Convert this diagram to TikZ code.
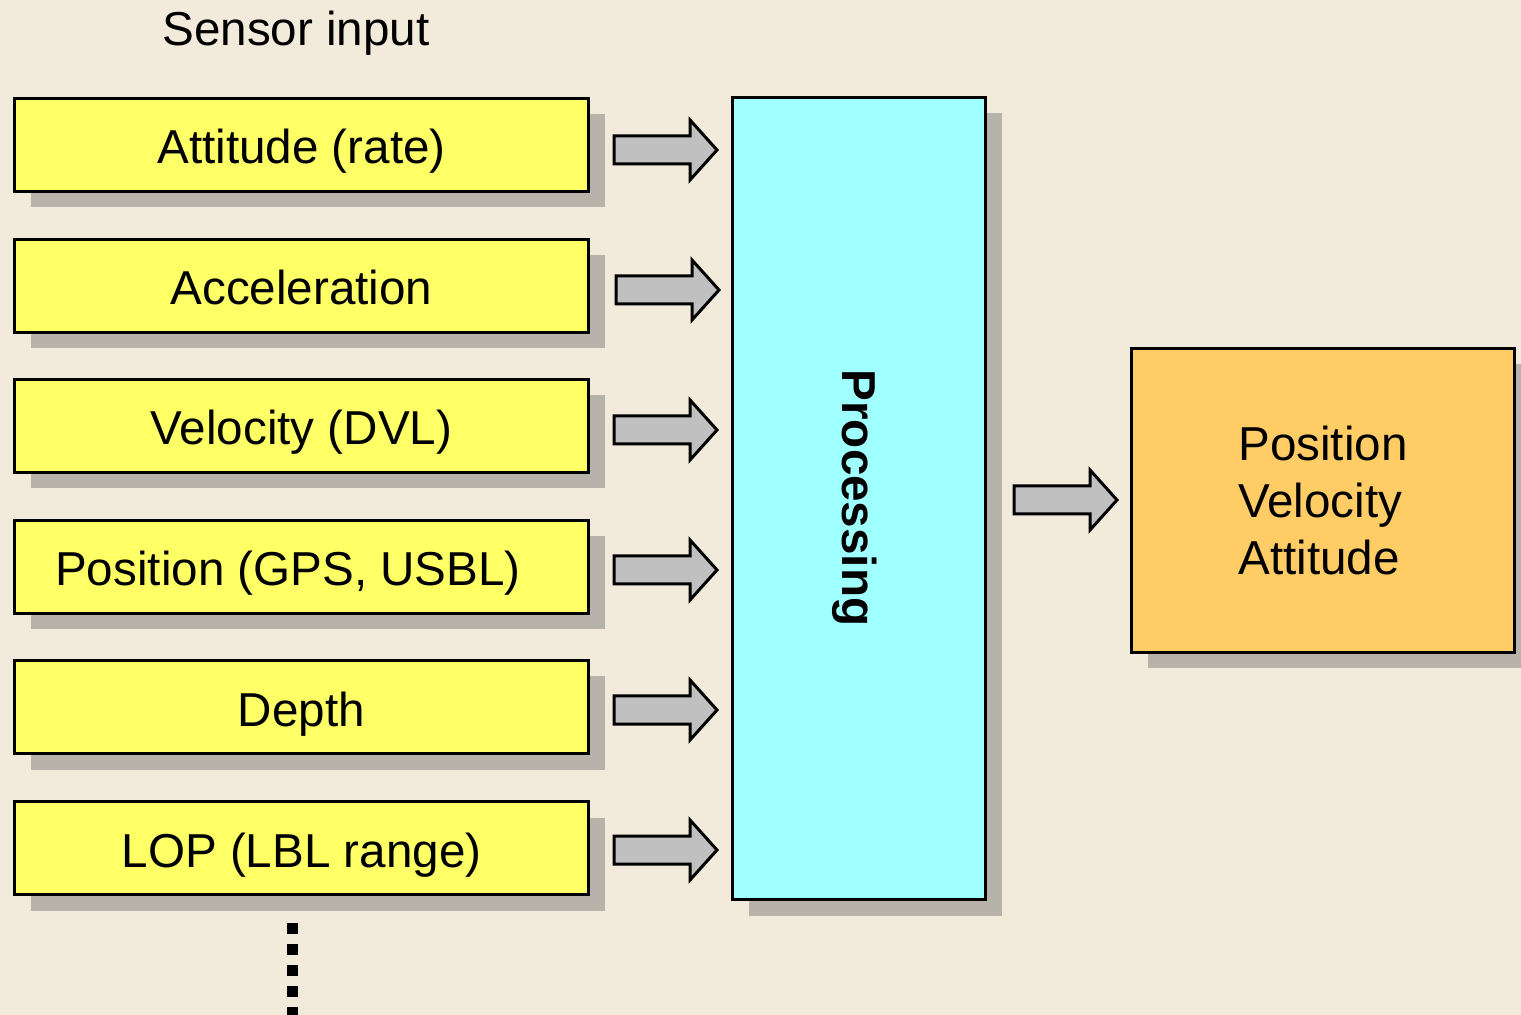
\documentclass[tikz,border=0pt]{standalone}
\usepackage{fontspec}
\setmainfont{Liberation Sans}
\usetikzlibrary{shadows}
\definecolor{bgc}{HTML}{F2EADA}
\definecolor{yel}{HTML}{FFFF66}
\definecolor{cya}{HTML}{A0FFFF}
\definecolor{ora}{HTML}{FFCC66}
\definecolor{arrg}{HTML}{C0C0C0}
\definecolor{shad}{HTML}{B8B3AA}
\begin{document}
\begin{tikzpicture}[x=0.5pt,y=-0.5pt,
  bigfont/.style={font=\fontsize{23.8}{28.5}\selectfont},
  basebox/.style={draw=black,line width=1.5pt,inner sep=0pt,bigfont,
    general shadow={fill=shad,shadow xshift=8pt,shadow yshift=-8pt}},
  sensor/.style={basebox,fill=yel,minimum width=287pt,minimum height=46.5pt,text height=19pt,text depth=0pt},
  procbox/.style={basebox,fill=cya,minimum width=126.5pt,minimum height=401pt},
  outbox/.style={basebox,fill=ora,minimum width=191.5pt,minimum height=152pt},
  arrowst/.style={draw=black,fill=arrg,line width=1.5pt,line join=miter},
  barrow/.pic={\draw[arrowst] (0,-14) -- (76,-14) -- (76,-30) -- (103,0) -- (76,30) -- (76,14) -- (0,14) -- cycle;},
  dotsline/.style={line width=5.5pt,dash pattern=on 5.5pt off 5pt}
]
\clip (0,0) rectangle (1521,1015);
\fill[bgc] (0,0) rectangle (1521,1015);

\node[bigfont] (title) at (296,33) {Sensor input};

\node[sensor] (s1) at (301.5,145) {Attitude (rate)};
\node[sensor] (s2) at (301.5,286) {Acceleration};
\node[sensor] (s3) at (301.5,426) {Velocity (DVL)};
\node[sensor] (s4) at (301.5,567) {};
\node[bigfont,text height=19pt,text depth=0pt] (s4t) at (288,567) {Position (GPS, USBL)};
\node[sensor] (s5) at (301.5,707) {Depth};
\node[sensor] (s6) at (301.5,848) {LOP (LBL range)};

\node[procbox] (proc) at (859,498.5) {};
\node[bigfont,font=\fontsize{23.8}{28.5}\selectfont\bfseries,rotate=-90] (proct) at (855,498) {Processing};

\node[outbox,align=left] (out) at (1323,500.5) {Position\\Velocity\\Attitude};

\path (s1.east) ++(24,5) pic {barrow};
\path (s2.east) ++(26,4) pic {barrow};
\path (s3.east) ++(24,4) pic {barrow};
\path (s4.east) ++(24,3) pic {barrow};
\path (s5.east) ++(24,3) pic {barrow};
\path (s6.east) ++(24,2) pic {barrow};
\path (proc.east) ++(27,1.5) pic {barrow};

\coordinate (dtop) at (292.5,923);
\coordinate (dbot) at (292.5,1030);
\draw[dotsline] (dtop) -- (dbot);
\end{tikzpicture}
\end{document}
